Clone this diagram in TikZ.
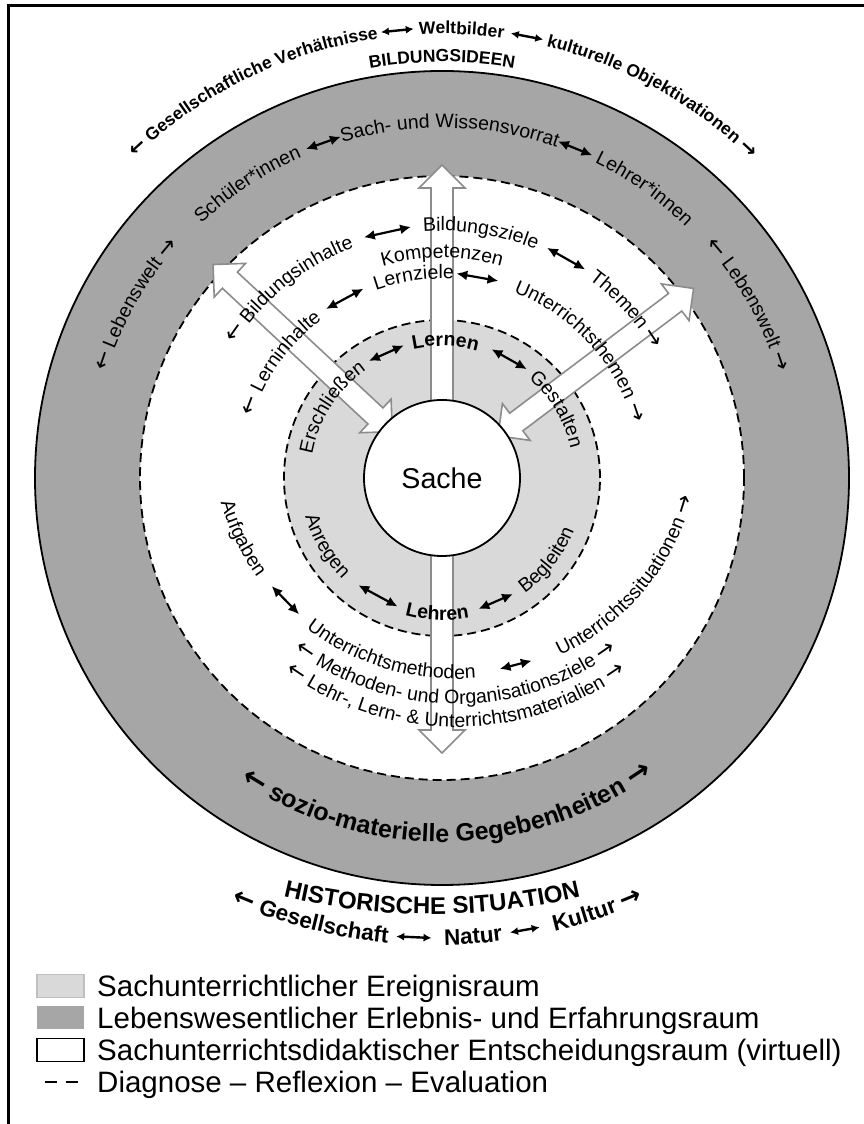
\documentclass[tikz,border=0pt]{standalone}
\usepackage{fontspec}
\setmainfont{Liberation Sans}
\newfontfamily\arrowfont[Scale=1.15]{DejaVu Sans}
\usetikzlibrary{calc,decorations.text,arrows.meta}

\definecolor{ringgray}{HTML}{A6A6A6}
\definecolor{eventgray}{HTML}{D9D9D9}
\definecolor{arrowgray}{HTML}{8C8C8C}

\newcommand\ringfont{\fontsize{19.5}{23}\selectfont}
\newcommand\ringbold{\bfseries\fontsize{19.5}{23}\selectfont}
\newcommand\topfont{\bfseries\fontsize{17.5}{20}\selectfont}
\newcommand\sozfont{\bfseries\fontsize{25}{29}\selectfont}
\newcommand\histfont{\bfseries\fontsize{24}{28}\selectfont}
\newcommand\landfont{\bfseries\fontsize{22.5}{26}\selectfont}
\newcommand\legfont{\fontsize{29.5}{34}\selectfont}

% text running clockwise over the top (letters facing outwards)
\newcommand\outertext[5]{\path[decorate,decoration={text along path,text align=center,text={|#4|#5}}]
  ($(#1)+({#3+70}:#2)$) arc[start angle={#3+70},end angle={#3-70},radius=#2];}
% text running anticlockwise along the bottom (letters facing the centre)
\newcommand\innertext[5]{\path[decorate,decoration={text along path,text align=center,text={|#4|#5}}]
  ($(#1)+({#3-70}:#2)$) arc[start angle={#3-70},end angle={#3+70},radius=#2];}
% short double-headed arrow between two words
\newcommand\linkarrow[5][linkarr]{\draw[#1] ($(#2)+(#4:#3)$) -- ($(#2)+(#5:#3)$);}
% hollow block arrow with heads at both ends
\newcommand\doublearrow[3]{\begin{scope}[shift={(C)},rotate=#1]
  \draw[bigarrow] (#2,0) -- (#2+23,23) -- (#2+23,11) -- (#3-23,11) -- (#3-23,23) -- (#3,0)
    -- (#3-23,-23) -- (#3-23,-11) -- (#2+23,-11) -- (#2+23,-23) -- cycle;
  \end{scope}}
% hollow block arrow with a single head
\newcommand\singlearrow[3]{\begin{scope}[shift={(C)},rotate=#1]
  \draw[bigarrow] (#2,-11) -- (#3-23,-11) -- (#3-23,-23) -- (#3,0) -- (#3-23,23)
    -- (#3-23,11) -- (#2,11) -- cycle;
  \end{scope}}

\tikzset{
  linkarr/.style={<->,>={Latex[length=11pt,width=10pt]},line width=2.2pt},
  smallarr/.style={<->,>={Latex[length=8pt,width=8pt]},line width=2.4pt},
  bigarrow/.style={draw=arrowgray,fill=white,line width=1.6pt,line join=miter},
  dashring/.style={dash pattern=on 9pt off 5pt,line width=1.8pt},
  legbox/.style={minimum width=47pt,minimum height=23pt,inner sep=0pt,line width=1.2pt},
  legtext/.style={anchor=base west,font=\legfont,inner sep=0pt},
}

\begin{document}
\begin{tikzpicture}[x=1pt,y=1pt]
\useasboundingbox (0,0) rectangle (864,1124);
\fill[white] (0,0) rectangle (864,1124);

% frame
\draw[line width=3pt] (8,0) -- (8,1118) -- (864,1118);

% centres of the circles and of the arched captions
\coordinate (C) at (442,646);
\coordinate (L) at (456,690);
\coordinate (G) at (436,693);
\coordinate (H) at (432,852);

% rings
\fill[ringgray] (C) circle[radius=407];
\draw[line width=1.8pt] (C) circle[radius=407];
\draw[dashring,fill=white] (C) circle[radius=302];
\draw[dashring,fill=eventgray] (C) circle[radius=158];

% block arrows
\doublearrow{137}{68}{313}
\doublearrow{37}{70}{315}
\singlearrow{90}{70}{313}
\singlearrow{270}{70}{275}

\node[circle,draw,line width=1.8pt,fill=white,minimum size=156pt,inner sep=0pt,
      font=\fontsize{28.6}{32}\selectfont] (sache) at (C) {Sache};

% outside, top
\outertext{C}{444}{116}{\topfont}{{\arrowfont ←} Gesellschaftliche Verhältnisse}
\linkarrow[smallarr]{C}{450}{97.8}{93.6}
\outertext{C}{444}{87.5}{\topfont}{Weltbilder}
\linkarrow[smallarr]{C}{450}{81.2}{77}
\outertext{C}{444}{61.2}{\topfont}{kulturelle Objektivationen {\arrowfont →}}
\outertext{C}{416}{90}{\topfont}{BILDUNGSIDEEN}

% grey ring
\outertext{C}{350}{123.5}{\ringfont}{Schüler*innen}
\linkarrow{C}{356}{112.5}{106.5}
\outertext{C}{350}{88.7}{\ringfont}{Sach- und Wissensvorrat}
\linkarrow{C}{356}{71}{65}
\outertext{C}{350}{55}{\ringfont}{Lehrer*innen}
\outertext{C}{352}{150.5}{\ringfont}{{\arrowfont ←} Lebenswelt {\arrowfont →}}
\outertext{C}{352}{29.5}{\ringfont}{{\arrowfont ←} Lebenswelt {\arrowfont →}}
\innertext{C}{364}{271}{\sozfont}{{\arrowfont ←} sozio-materielle Gegebenheiten {\arrowfont →}}

% white ring, upper half
\outertext{C}{247}{129}{\ringfont}{{\arrowfont ←} Bildungsinhalte}
\linkarrow{C}{253}{108}{97}
\outertext{C}{247}{81}{\ringfont}{Bildungsziele}
\linkarrow{C}{253}{65.5}{55.5}
\outertext{C}{247}{42.4}{\ringfont}{Themen {\arrowfont →}}
\outertext{C}{220}{90}{\ringfont}{Kompetenzen}
\outertext{C}{199}{144.5}{\ringfont}{{\arrowfont ←} Lerninhalte}
\linkarrow{C}{205}{124.5}{112.5}
\outertext{C}{199}{98}{\ringfont}{Lernziele}
\linkarrow{C}{205}{86}{74}
\outertext{C}{199}{42.5}{\ringfont}{Unterrichtsthemen {\arrowfont →}}

% light ring
\outertext{C}{132}{147.3}{\ringfont}{Erschließen}
\linkarrow{C}{138}{122}{106}
\outertext{C}{132}{88.5}{\ringbold}{Lernen}
\linkarrow{C}{138}{69}{52}
\outertext{C}{132}{31}{\ringfont}{Gestalten}
\innertext{C}{142}{210.5}{\ringfont}{Anregen}
\linkarrow{C}{136}{232}{251}
\innertext{C}{142}{268}{\ringbold}{Lehren}
\linkarrow{C}{136}{285.5}{301.5}
\innertext{C}{142}{322}{\ringfont}{Begleiten}

% white ring, lower half
\innertext{L}{245}{206}{\ringfont}{Aufgaben}
\linkarrow{L}{239}{219.5}{229}
\innertext{L}{245}{253.5}{\ringfont}{Unterrichtsmethoden}
\linkarrow{L}{239}{280.5}{288.5}
\innertext{L}{245}{320}{\ringfont}{Unterrichtssituationen {\arrowfont →}}
\innertext{L}{270}{270}{\ringfont}{{\arrowfont ←} Methoden- und Organisationsziele {\arrowfont →}}
\innertext{L}{293}{270}{\ringfont}{{\arrowfont ←} Lehr-, Lern- {\&} Unterrichtsmaterialien {\arrowfont →}}

% outside, bottom
\innertext{H}{642}{270}{\histfont}{HISTORISCHE SITUATION}
\innertext{G}{514}{255.6}{\landfont}{{\arrowfont ←} Gesellschaft}
\linkarrow[smallarr]{G}{507}{265.5}{269.5}
\innertext{G}{514}{274.2}{\landfont}{Natur}
\linkarrow[smallarr]{G}{507}{278.4}{281.8}
\innertext{G}{514}{288.6}{\landfont}{Kultur {\arrowfont →}}

% legend
\node[legbox,draw=black!25,fill=eventgray] (k1) at (60.5,138) {};
\node[legbox,fill=ringgray] (k2) at (60.5,106) {};
\node[legbox,draw=black,fill=white] (k3) at (60.5,74) {};
\coordinate (k4) at (60.5,42);
\draw[line width=2.5pt] ([xshift=-16pt]k4) -- ([xshift=-4pt]k4) ([xshift=5pt]k4) -- ([xshift=17pt]k4);
\node[legtext] (t1) at (97,127) {Sachunterrichtlicher Ereignisraum};
\node[legtext] (t2) at (97,95) {Lebenswesentlicher Erlebnis- und Erfahrungsraum};
\node[legtext] (t3) at (97,63) {Sachunterrichtsdidaktischer Entscheidungsraum (virtuell)};
\node[legtext] (t4) at (97,31) {Diagnose – Reflexion – Evaluation};
\end{tikzpicture}
\end{document}
